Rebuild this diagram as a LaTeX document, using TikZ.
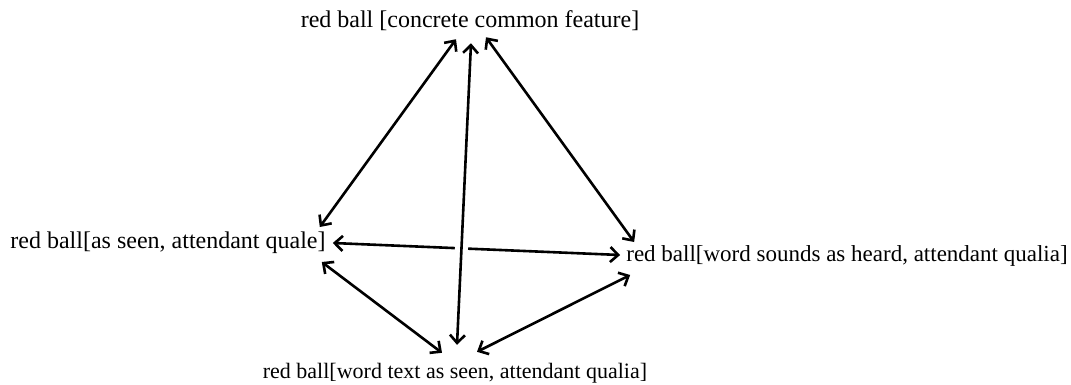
\documentclass[tikz,border=0pt]{standalone}
\usepackage{fontspec}
\setmainfont{Liberation Serif}
\usetikzlibrary{arrows.meta}
\newcommand{\lblfont}{\fontsize{24}{28}\selectfont}
\newcommand{\lblfontnarrow}{\fontsize{23}{27}\selectfont}
\newcommand{\lblfontsmall}{\fontsize{22}{26}\selectfont}

\begin{document}
\begin{tikzpicture}[x=1pt,y=-1pt,
  lbl/.style={inner sep=0,font=\lblfont,text=black},
  link/.style={line width=2.6pt,{Straight Barb[length=8pt,width=15pt]}-{Straight Barb[length=8pt,width=15pt]}},
  hop/.style={preaction={draw=white,line width=13pt,-}}]
\useasboundingbox (0,0) rectangle (1071,385);
\node[lbl] (top) at (470,21) {red ball [concrete common feature]};
\node[lbl] (left) at (168,243) {red ball[as seen, attendant quale]};
\node[lbl,font=\lblfontnarrow] (right) at (847,256) {red ball[word sounds as heard, attendant qualia]};
\node[lbl,font=\lblfontsmall] (bot) at (455,373) {red ball[word text as seen, attendant qualia]};
% sides of the pyramid
\draw[link] ([xshift=-6pt,yshift=16pt]left.east) -- ([xshift=-14pt,yshift=-8pt]top.south);
\draw[link] ([xshift=8pt,yshift=14pt]right.west) -- ([xshift=16pt,yshift=-6pt]top.south);
\draw[link] ([xshift=7pt,yshift=0pt]left.east) -- ([xshift=-6pt,yshift=1pt]right.west);
\draw[link] ([xshift=-4pt,yshift=-19pt]left.east) -- ([xshift=-13pt,yshift=10pt]bot.north);
\draw[link] ([xshift=4pt,yshift=-19pt]right.west) -- ([xshift=22pt,yshift=11pt]bot.north);
% middle edge, passes over the cross edge
\draw[link,hop] ([xshift=2pt,yshift=18pt]bot.north) -- ([xshift=1pt,yshift=-12pt]top.south);
\end{tikzpicture}
\end{document}
